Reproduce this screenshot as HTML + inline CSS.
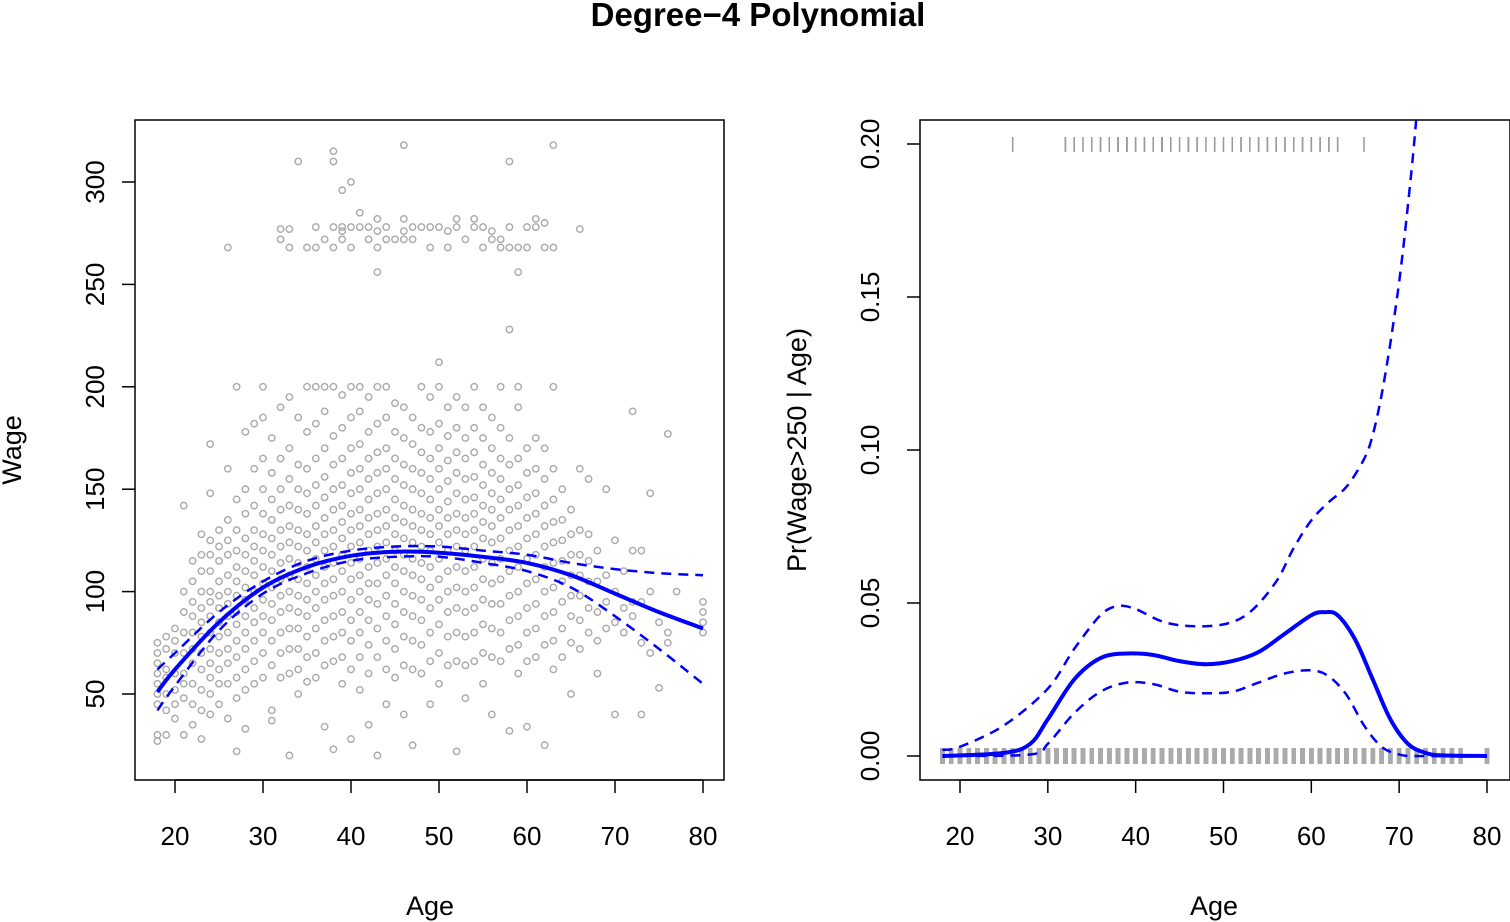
<!DOCTYPE html>
<html><head><meta charset="utf-8"><style>
html,body{margin:0;padding:0;background:#fff}
svg{display:block;font-family:"Liberation Sans",Arial,sans-serif}
</style></head><body>
<svg id="chart" width="1510" height="922" viewBox="0 0 1510 922">
<text x="758" y="26" text-anchor="middle" font-size="33" font-weight="bold">Degree−4 Polynomial</text>
<defs><clipPath id="clipL"><rect x="135" y="120" width="589" height="660"/></clipPath>
<clipPath id="clipR"><rect x="920" y="120" width="590" height="660"/></clipPath></defs>
<g id="left"></g>
<g id="right"></g>
</svg>
<script>
const wageGroups = [
[75,70,65,60,55,50,45,30,27],
[78,72,62,58,50,42,30],
[82,76,70,60,52,45,38],
[142,100,90,80,70,60,55,48,30],
[115,105,95,88,80,72,65,55,45,35],
[128,118,110,100,92,85,78,70,62,52,42,28],
[172,148,125,118,110,100,95,88,80,72,65,58,50,40],
[130,122,115,105,98,92,85,78,70,62,55,45],
[268,160,135,125,118,108,100,94,88,80,72,65,55,38],
[200,145,130,120,112,105,98,90,84,76,68,58,48,22],
[178,150,138,126,118,110,102,96,88,80,72,62,52,33],
[182,160,142,130,122,115,108,100,92,85,76,66,55],
[200,185,165,150,138,128,120,112,104,96,88,80,70,58],
[175,158,145,135,126,118,110,102,94,86,76,64,42,37],
[277,272,190,165,150,140,130,122,114,106,98,90,80,70,58],
[277,268,195,170,155,142,132,124,116,108,100,92,82,72,60,20],
[310,185,162,150,140,130,122,114,106,98,90,82,72,62,50],
[268,200,178,160,148,138,128,120,112,104,96,88,78,68,56],
[278,268,200,182,165,152,142,132,124,116,108,100,92,82,70,58],
[272,200,188,170,156,146,136,128,120,112,104,96,86,76,64,34],
[315,310,278,268,200,176,162,150,140,130,122,114,106,98,88,78,66,23],
[296,278,276,272,196,180,165,152,142,134,126,118,110,100,90,80,68,55],
[300,278,268,200,185,170,158,148,138,130,122,114,106,96,86,76,62,28],
[285,278,200,188,172,160,150,140,132,124,116,108,100,90,80,68,52],
[278,272,195,178,165,155,145,136,128,120,112,104,96,86,74,60,35],
[282,276,268,256,200,182,168,158,148,138,130,122,114,104,94,82,68,20],
[278,272,200,185,170,160,150,140,132,124,116,108,98,88,76,62,45],
[272,192,178,165,155,145,136,128,120,112,104,94,84,72,58],
[318,282,276,272,190,175,162,152,142,134,126,118,110,100,90,78,64,40],
[278,272,185,172,160,150,140,132,124,116,108,98,88,76,62,25],
[278,200,180,168,158,148,138,130,122,114,106,96,86,74,60],
[278,268,195,178,165,155,145,136,128,120,112,102,92,80,66,45],
[278,212,200,182,170,160,150,140,132,124,116,106,96,84,70,55],
[276,268,190,176,164,154,144,136,128,120,110,100,90,78,64],
[282,278,195,180,168,158,148,138,130,122,112,102,92,80,66,22],
[272,190,175,165,155,145,136,128,120,110,100,90,78,64,48],
[282,278,200,180,168,156,146,138,130,122,112,102,92,80,66],
[278,268,190,175,162,152,142,134,126,116,106,96,84,70,55],
[276,272,185,170,158,148,140,132,124,114,104,94,82,68,40],
[272,268,200,180,165,155,145,136,126,116,106,94,80,66],
[310,278,268,228,175,162,150,140,130,120,110,98,86,72,32],
[268,256,200,190,165,152,142,132,122,112,100,88,74,60],
[278,268,170,158,146,136,126,116,104,92,80,66,34],
[282,278,175,160,148,138,128,118,106,94,82,68],
[280,268,170,155,142,132,122,112,100,88,74,25],
[318,268,200,160,145,134,124,114,102,90,76,62],
[150,135,125,115,105,95,82,68],
[140,128,118,108,98,88,75,50],
[277,160,130,118,108,98,86,72],
[155,128,115,105,92,80],
[120,105,90,76,60],
[150,108,95,82],
[125,100,85,40],
[110,92,80],
[188,120,95,88],
[95,75,40,120],
[148,100,70],
[85,53],
[177,80,75],
[100],
[],
[],
[95,90,85,80]
];
const firstAge = 18;
const fitAges = [18,20,25,30,35,40,45,50,55,60,65,70,75,80];
const fitWage = [51,62,85,102,112,117.5,119.5,119,117,114,108,99,90,82];
const fitUpper = [62,70,90,105,115,120,122,122,120,118,114,111,109,108];
const fitLower = [42,54,81,99,109,115,117,117,114,110,102,88,72,55];
const probAges = [18,25,28,30,33,36,39,42,45,48,51,54,57,60,61.5,63,65,67,69,71,73,75,80];
const probFit = [0,0.001,0.004,0.012,0.025,0.032,0.0335,0.033,0.031,0.030,0.031,0.034,0.040,0.046,0.047,0.046,0.038,0.025,0.012,0.004,0.001,0.0002,0];
const upAges = [18,20,25,30,33,36,38,40,43,46,50,53,56,58,60,62,64,66,67,68,69,70,71,72,73];
const probUpper = [0.002,0.003,0.01,0.022,0.035,0.046,0.049,0.048,0.044,0.0425,0.043,0.047,0.057,0.068,0.077,0.083,0.088,0.097,0.105,0.118,0.135,0.155,0.18,0.21,0.25];
const loAges = [18,28,30,33,36,39,42,45,48,51,54,57,60,62,64,66,68,70,72,80];
const probLower = [0,0.0005,0.004,0.014,0.021,0.024,0.0235,0.021,0.0205,0.021,0.024,0.027,0.028,0.026,0.02,0.01,0.003,0.0005,0,0];
const xTicks = [20,30,40,50,60,70,80];
const wageTicks = [50,100,150,200,250,300];
const probTicks = [0,0.05,0.10,0.15,0.20];
const probTickLabels = ["0.00","0.05","0.10","0.15","0.20"];

const NS="http://www.w3.org/2000/svg";
function mk(parent,tag,attrs,text){const e=document.createElementNS(NS,tag);for(const k in attrs)e.setAttribute(k,attrs[k]);if(text!==undefined)e.textContent=text;parent.appendChild(e);return e;}
const xL=a=>175+(a-20)*8.8, yL=w=>694-(w-50)*2.048;
const xR=a=>960+(a-20)*8.783, yR=p=>756-p*3060;
const L=document.getElementById('left'), R=document.getElementById('right');

const gs=mk(L,'g',{'clip-path':'url(#clipL)'});


wageGroups.forEach((ws,i)=>ws.forEach(w=>{
  const c=mk(gs,'circle',{cx:xL(firstAge+i),cy:yL(w),r:3.2,fill:'none',stroke:'#a8a8a8','stroke-width':1.4});
  
  
}));
function path(g,xs,ys,fx,fy,dash,w,name){
  const P=xs.map((a,i)=>[fx(a),fy(ys[i])]);
  let d='M'+P[0][0].toFixed(1)+','+P[0][1].toFixed(1);
  for(let i=0;i<P.length-1;i++){
    const p0=P[Math.max(0,i-1)],p1=P[i],p2=P[i+1],p3=P[Math.min(P.length-1,i+2)];
    const c1=[p1[0]+(p2[0]-p0[0])/6,p1[1]+(p2[1]-p0[1])/6];
    const c2=[p2[0]-(p3[0]-p1[0])/6,p2[1]-(p3[1]-p1[1])/6];
    d+=` C${c1[0].toFixed(1)},${c1[1].toFixed(1)} ${c2[0].toFixed(1)},${c2[1].toFixed(1)} ${p2[0].toFixed(1)},${p2[1].toFixed(1)}`;
  }
  const p=mk(g,'path',{d:d,fill:'none',stroke:'#0000ff','stroke-width':w,'stroke-dasharray':dash||'none','stroke-linejoin':'round'});
  
  
}
path(gs,fitAges,fitWage,xL,yL,null,4,'wage-fit-line');
path(gs,fitAges,fitUpper,xL,yL,'10,7',2.5,'wage-upper-band');
path(gs,fitAges,fitLower,xL,yL,'10,7',2.5,'wage-lower-band');
const fl=mk(L,'rect',{x:135,y:120,width:589,height:660,fill:'none',stroke:'#000','stroke-width':1.5});



function xAxis(g,fx,name){
  xTicks.forEach(t=>{
    mk(g,'line',{x1:fx(t),x2:fx(t),y1:780,y2:793,stroke:'#000','stroke-width':1.5});
    const tx=mk(g,'text',{x:fx(t),y:845,'text-anchor':'middle','font-size':26},t);
    
    
  });
  mk(g,'line',{x1:fx(20),x2:fx(80),y1:780,y2:780,stroke:'#000','stroke-width':1.5});
}
xAxis(L,xL,'left-x');
const xtl=mk(L,'text',{x:430,y:915,'text-anchor':'middle','font-size':27},'Age');


wageTicks.forEach(t=>{
  mk(L,'line',{x1:122,x2:135,y1:yL(t),y2:yL(t),stroke:'#000','stroke-width':1.5});
  const tx=mk(L,'text',{x:0,y:0,'text-anchor':'middle','font-size':26,transform:`translate(104,${yL(t)}) rotate(-90)`},t);
  
  
});
const ytl=mk(L,'text',{x:0,y:0,'text-anchor':'middle','font-size':27,transform:'translate(21,450) rotate(-90)'},'Wage');



const gr=mk(R,'g',{'clip-path':'url(#clipR)'});
wageGroups.forEach((ws,i)=>ws.forEach(w=>{
  const a=firstAge+i;
  if(w>250){
    const l=mk(gr,'line',{x1:xR(a),x2:xR(a),y1:137,y2:152,stroke:'#999','stroke-width':1.5});
    
    
  } else {
    const l=mk(gr,'line',{x1:xR(a),x2:xR(a),y1:748,y2:764,stroke:'#aaaaaa','stroke-width':4.5});
    
    
  }
}));
path(gr,probAges,probFit,xR,yR,null,4,'prob-fit-line');
path(gr,upAges,probUpper,xR,yR,'10,7',2.5,'prob-upper-band');
path(gr,loAges,probLower,xR,yR,'10,7',2.5,'prob-lower-band');
const fr=mk(R,'rect',{x:920,y:120,width:590,height:660,fill:'none',stroke:'#000','stroke-width':1.5});


xAxis(R,xR,'right-x');
const xtr=mk(R,'text',{x:1214,y:915,'text-anchor':'middle','font-size':27},'Age');


probTicks.forEach((t,i)=>{
  mk(R,'line',{x1:907,x2:920,y1:yR(t),y2:yR(t),stroke:'#000','stroke-width':1.5});
  const tx=mk(R,'text',{x:0,y:0,'text-anchor':'middle','font-size':26,transform:`translate(879,${yR(t)}) rotate(-90)`},probTickLabels[i]);
  
  
});
const ytr=mk(R,'text',{x:0,y:0,'text-anchor':'middle','font-size':27,transform:'translate(806,450) rotate(-90)'},'Pr(Wage>250 | Age)');


</script>
</body></html>
